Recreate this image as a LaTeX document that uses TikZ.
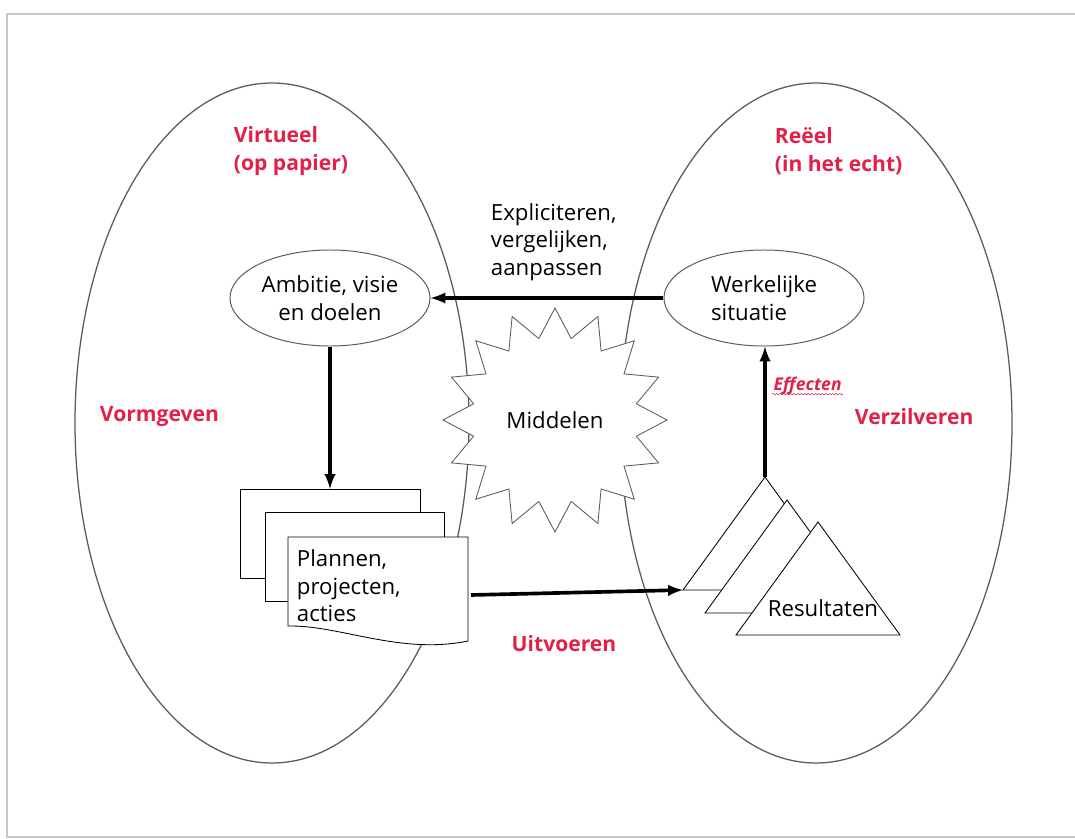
\documentclass[tikz,border=0pt]{standalone}
\usepackage{fontspec}
\setmainfont{Open Sans}
\usepackage{tikz}
\usetikzlibrary{arrows,shapes.geometric,decorations.pathmorphing}
\definecolor{vred}{RGB}{226,32,72}
\definecolor{ovalgray}{RGB}{90,90,90}
\tikzset{
  bigoval/.style={draw=ovalgray, line width=0.9pt},
  oval/.style={ellipse, draw=ovalgray, fill=white, line width=0.7pt, minimum width=5cm, minimum height=2.4cm, inner sep=0pt, font=\fontsize{15.8}{19.5}\selectfont},
  redlabel/.style={text=vred, font=\fontsize{15}{19.5}\selectfont\bfseries, align=left},
  plain/.style={font=\fontsize{15.8}{19.5}\selectfont, align=left},
  flow/.style={->, >=latex, line width=2.6pt},
  sheet/.style={draw, fill=white, line width=0.6pt}
}

\begin{document}
\begin{tikzpicture}[x=0.025cm, y=-0.025cm]
\useasboundingbox (0,0) rectangle (1075,839);
% page frame
\draw[gray!45, line width=1.5pt] (7,14) rectangle (1090,837);

% the two worlds
\draw[bigoval] (272,423) ellipse [x radius=197, y radius=340];
\draw[bigoval] (816,423) ellipse [x radius=196, y radius=340];

\node[redlabel, anchor=west] (virt) at (229,151) {Virtueel\\(op papier)};
\node[redlabel, anchor=west] (reeel) at (770,151) {Reëel\\(in het echt)};
\node[redlabel, anchor=west] (vorm) at (95,417) {Vormgeven};
\node[redlabel, anchor=west] (verz) at (850,417) {Verzilveren};
\node[redlabel] (uitv) at (564,644) {Uitvoeren};

% goals and reality
\node[oval, align=center] (amb) at (330,298) {Ambitie, visie\\en doelen};
\node[oval, align=left] (werk) at (764,298) {Werkelijke\\situatie};
\node[plain, anchor=west] (expl) at (486,242) {Expliciteren,\\vergelijken,\\aanpassen};

% means
\node[star, star points=16, star point ratio=1.35, minimum size=5.6cm, draw=ovalgray, fill=white, line width=0.6pt, font=\fontsize{15.8}{19.5}\selectfont] (mid) at (555,420) {Middelen};

% plans
\draw[sheet] (240,489) rectangle (420,578);
\draw[sheet] (265,512) rectangle (444,601);
\draw[sheet] (288,537) -- (468,537) -- (468,641)
  .. controls (400,655) and (340,625) .. (288,626) -- cycle;
\node[plain, anchor=west] (plan) at (292,586) {Plannen,\\projecten,\\acties};
\coordinate (docA) at (330,489);
\coordinate (docR) at (471,595);

% results
\foreach \dx/\dy in {0/0, 22/23, 53/45}
  \draw[sheet] (683+\dx,590+\dy) -- (765+\dx,477+\dy) -- (847+\dx,590+\dy) -- cycle;
\node[font=\fontsize{15.8}{19.5}\selectfont] (res) at (823,608) {Resultaten};
\coordinate (triL) at (683,590);
\coordinate (triT) at (765,477);

\node[text=vred, font=\fontsize{12.5}{14}\selectfont\bfseries\itshape, anchor=west, inner sep=1pt] (eff) at (772,386) {Effecten};
\draw[vred, line width=0.4pt, decorate, decoration={snake, amplitude=0.45pt, segment length=2.5pt}]
  ([yshift=-2.5pt]eff.base west) -- ([yshift=-2.5pt]eff.base east);

% connectors
\draw[flow] (werk.west) -- (amb.east);
\draw[flow] (amb.south) -- (amb.south |- docA);
\draw[flow] (docR) -- (triL);
\draw[flow] (triT) -- (triT |- werk.south);
\end{tikzpicture}
\end{document}
